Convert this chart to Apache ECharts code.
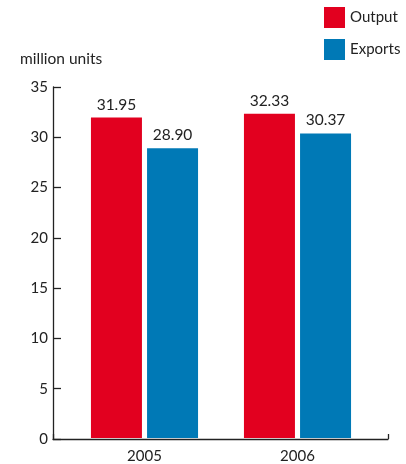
<!DOCTYPE html>
<html><head><meta charset="utf-8">
<script src="https://cdn.jsdelivr.net/npm/echarts@6/dist/echarts.min.js"></script>
<style>html,body{margin:0;padding:0;background:#fff}#c{width:406px;height:464px}</style>
</head><body><div id="c"></div>
<script>
const categories = ['2005', '2006'];
const outputValues = [31.95, 32.33];
const exportValues = [28.90, 30.37];
const yTicks = [0, 5, 10, 15, 20, 25, 30, 35];
const unitLabel = 'million units';

const font = 'Lato, "Open Sans", sans-serif';
const txt = '#222';
const chart = echarts.init(document.getElementById('c'));
chart.setOption({
  animation: false,
  textStyle: { fontFamily: font },
  legend: {
    orient: 'vertical', left: 319, top: 2, itemWidth: 21, itemHeight: 21, itemGap: 11,
    icon: 'rect', textStyle: { fontSize: 15, color: txt, fontFamily: font },
    data: ['Output', 'Exports']
  },
  grid: [
    { left: 53, right: 18, top: 87, bottom: 25 },
    { left: 68, right: 32, top: 87, bottom: 25 }
  ],
  xAxis: [
    { gridIndex: 0, type: 'value', min: 0, max: 1, interval: 1,
      axisLine: { show: true, lineStyle: { color: '#222', width: 1.3 } },
      axisTick: { show: true, inside: true, length: 5, lineStyle: { color: '#222', width: 1.3 } },
      axisLabel: { show: false }, splitLine: { show: false } },
    { gridIndex: 1, type: 'category', data: categories,
      axisLine: { show: false }, axisTick: { show: false },
      axisLabel: { fontSize: 15, color: txt, margin: 11, fontFamily: font } }
  ],
  yAxis: [
    { gridIndex: 0, type: 'value', min: yTicks[0], max: yTicks[yTicks.length - 1], interval: yTicks[1] - yTicks[0],
      name: unitLabel, nameLocation: 'end', nameGap: 20,
      nameTextStyle: { fontSize: 15.5, color: txt, align: 'left', padding: [0, 0, 0, -33], fontFamily: font },
      axisLine: { show: true, lineStyle: { color: '#222', width: 1.3 } },
      axisTick: { show: true, inside: true, length: 8, lineStyle: { color: '#222', width: 1.3 } },
      axisLabel: { fontSize: 15, color: txt, margin: 5, fontFamily: font },
      splitLine: { show: false } },
    { gridIndex: 1, type: 'value', min: yTicks[0], max: yTicks[yTicks.length - 1], show: false }
  ],
  series: [
    { name: 'Output', type: 'bar', xAxisIndex: 1, yAxisIndex: 1, data: outputValues,
      barWidth: 51, barGap: '10%', itemStyle: { color: '#e2001f' },
      label: { show: true, position: 'top', distance: 5, fontSize: 15.5, color: txt, fontFamily: font,
        formatter: p => p.value.toFixed(2) } },
    { name: 'Exports', type: 'bar', xAxisIndex: 1, yAxisIndex: 1, data: exportValues,
      barWidth: 51, barGap: '10%', itemStyle: { color: '#0079b6' },
      label: { show: true, position: 'top', distance: 5, fontSize: 15.5, color: txt, fontFamily: font,
        formatter: p => p.value.toFixed(2) } }
  ]
});
</script></body></html>
